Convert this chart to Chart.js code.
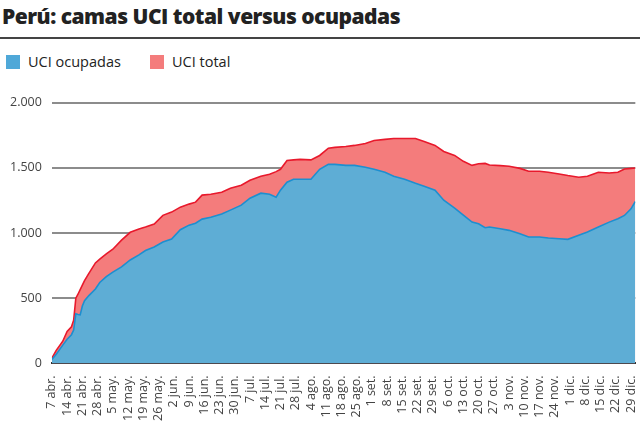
<!DOCTYPE html>
<html lang="es">
<head>
<meta charset="utf-8">
<script src="https://cdn.jsdelivr.net/npm/chart.js@4/dist/chart.umd.min.js"></script>
<style>
  html, body { margin: 0; padding: 0; background: #fff; }
  #wrap { position: relative; width: 640px; height: 440px; overflow: hidden; font-family: 'Open Sans', sans-serif; color: #222; }
  #titulo { position: absolute; left: 2px; top: 2px; font-size: 21px; font-weight: 800; letter-spacing: -0.5px; white-space: nowrap; }
  #regla { position: absolute; left: 0; top: 37px; width: 640px; height: 2px; background: #444; }
  .ley { position: absolute; top: 53px; font-size: 14.5px; line-height: 18px; }
  .ley i { position: absolute; left: 0; top: 2px; width: 14px; height: 14px; }
  .ley span { padding-left: 22px; }
  #lienzo { position: absolute; left: 0; top: 85px; width: 650px; height: 355px; }
</style>
</head>
<body>
<div id="wrap">
  <div id="titulo">Perú: camas UCI total versus ocupadas</div>
  <div id="regla"></div>
  <div class="ley" style="left:6px"><i style="background:#4fa8d8"></i><span>UCI ocupadas</span></div>
  <div class="ley" style="left:150px"><i style="background:#f47c7c"></i><span>UCI total</span></div>
  <div id="lienzo"><canvas id="grafico"></canvas></div>
</div>
<script>
'use strict';

// ── DATOS (días desde el 7 abr.) ──
const etiquetas = ['7 abr.', '14 abr.', '21 abr.', '28 abr.', '5 may.', '12 may.', '19 may.', '26 may.',
  '2 jun.', '9 jun.', '16 jun.', '23 jun.', '30 jun.', '7 jul.', '14 jul.', '21 jul.', '28 jul.',
  '4 ago.', '11 ago.', '18 ago.', '25 ago.', '1 set.', '8 set.', '15 set.', '22 set.', '29 set.',
  '6 oct.', '13 oct.', '20 oct.', '27 oct.', '3 nov.', '10 nov.', '17 nov.', '24 nov.',
  '1 dic.', '8 dic.', '15 dic.', '22 dic.', '29 dic.'];

const dias = [0, 2, 5, 7, 9, 10, 11, 12, 13, 14, 15, 17, 20, 22, 25, 28, 32, 36, 40, 43, 47, 51, 55, 59,
  63, 66, 69, 73, 78, 82, 87, 91, 96, 100, 103, 105, 108, 111, 114, 119, 123, 127, 130, 135, 139,
  144, 148, 153, 157, 162, 167, 171, 176, 180, 185, 189, 193, 196, 199, 201, 206, 210, 215, 219,
  224, 228, 233, 237, 242, 246, 251, 256, 260, 263, 266, 268];

const uciTotal = [40, 100, 170, 245, 280, 330, 500, 530, 565, 600, 635, 690, 770, 800, 840, 875, 945,
  1005, 1030, 1045, 1068, 1135, 1160, 1198, 1221, 1236, 1290, 1297, 1312, 1343, 1366, 1404, 1434,
  1450, 1470, 1488, 1556, 1560, 1564, 1560, 1594, 1650, 1656, 1663, 1671, 1686, 1709, 1717, 1724,
  1724, 1724, 1701, 1671, 1625, 1594, 1549, 1518, 1530, 1533, 1521, 1516, 1511, 1495, 1473, 1473,
  1465, 1452, 1440, 1427, 1434, 1465, 1460, 1465, 1490, 1495, 1498];

const uciOcupadas = [30, 70, 140, 185, 220, 255, 380, 375, 372, 440, 480, 520, 570, 620, 665, 700, 740,
  793, 832, 865, 893, 930, 954, 1025, 1060, 1075, 1106, 1121, 1145, 1175, 1213, 1266, 1305, 1297,
  1274, 1328, 1389, 1412, 1412, 1412, 1488, 1526, 1526, 1518, 1518, 1503, 1488, 1465, 1434, 1412,
  1381, 1358, 1328, 1251, 1190, 1137, 1083, 1070, 1040, 1045, 1032, 1020, 994, 969, 969, 961, 956,
  951, 982, 1007, 1045, 1083, 1109, 1134, 1185, 1241];

const aPuntos = (vals) => dias.map((d, i) => ({ x: d, y: vals[i] }));
const fmtMiles = (v) => String(v).replace(/\B(?=(\d{3})+(?!\d))/g, '.');

new Chart(document.getElementById('grafico'), {
  type: 'line',
  data: {
    datasets: [
      {
        label: 'UCI ocupadas',
        data: aPuntos(uciOcupadas),
        borderColor: '#1d8fd0',
        backgroundColor: '#5eadd5',
        borderWidth: 1.6,
        fill: 'origin',
        pointRadius: 0,
        tension: 0,
      },
      {
        label: 'UCI total',
        data: aPuntos(uciTotal),
        borderColor: '#e8192c',
        backgroundColor: '#f47c7c',
        borderWidth: 1.6,
        fill: 'origin',
        pointRadius: 0,
        tension: 0,
      },
    ],
  },
  options: {
    responsive: true,
    maintainAspectRatio: false,
    animation: false,
    layout: { padding: { left: 0, right: 3, top: 2, bottom: 15 } },
    plugins: { legend: { display: false }, tooltip: { enabled: false } },
    scales: {
      x: {
        type: 'linear',
        min: 0,
        max: 268,
        border: { display: true, color: '#333', width: 2 },
        grid: { display: false },
        ticks: {
          stepSize: 7,
          autoSkip: false,
          includeBounds: false,
          maxRotation: 90,
          minRotation: 90,
          padding: 4,
          color: '#444',
          font: { family: "'Open Sans', sans-serif", size: 12.5 },
          callback: (v) => (v % 7 === 0 ? etiquetas[v / 7] : ''),
        },
      },
      y: {
        min: 0,
        max: 2000,
        z: 1,
        border: { display: false },
        grid: {
          color: (c) => (c.tick && c.tick.value === 0 ? 'rgba(0,0,0,0)' : 'rgba(0,0,0,0.45)'),
          lineWidth: 2,
          drawTicks: false,
        },
        ticks: {
          stepSize: 500,
          padding: 10,
          color: '#444',
          font: { family: "'Open Sans', sans-serif", size: 12.5 },
          callback: (v) => fmtMiles(v),
        },
      },
    },
  },
});
</script>
</body>
</html>
